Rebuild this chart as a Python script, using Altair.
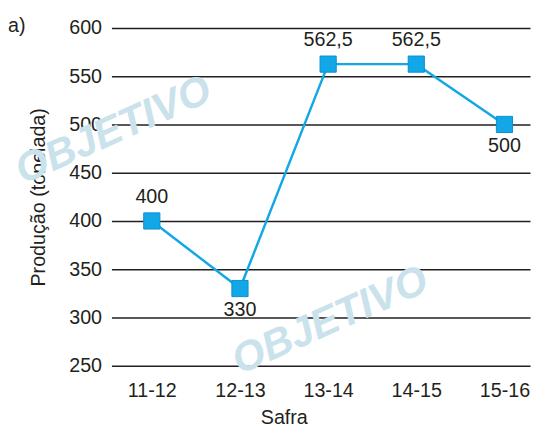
import altair as alt
import pandas as pd

safras = ["11-12", "12-13", "13-14", "14-15", "15-16"]
producao = [400, 330, 562.5, 562.5, 500]
rotulos = ["400", "330", "562,5", "562,5", "500"]
lado_rotulo = ["acima", "abaixo", "acima", "acima", "abaixo"]
y_ticks = [250, 300, 350, 400, 450, 500, 550, 600]

FONT = "Liberation Sans"
TXT = "#231f20"
BLUE = "#12a7e6"

df = pd.DataFrame({
    "i": list(range(len(safras))),
    "safra": safras,
    "v": producao,
    "rot": rotulos,
    "lado": lado_rotulo,
})

label_expr = "[" + ",".join("'%s'" % s for s in safras) + "][datum.value]"

x = alt.X(
    "i:Q",
    scale=alt.Scale(domain=[-0.458, 4.29], nice=False, zero=False),
    axis=alt.Axis(
        values=list(range(len(safras))),
        labelExpr=label_expr,
        grid=False, ticks=False, domain=False,
        labelFontSize=20, labelFont=FONT, labelColor=TXT, labelPadding=15,
        title="Safra", titleFontSize=20, titleFont=FONT, titleColor=TXT,
        titleFontWeight="normal", titlePadding=8, titleX=175, titleAnchor="start", titleAlign="center",
    ),
)
y = alt.Y(
    "v:Q",
    scale=alt.Scale(domain=[250, 600], nice=False, zero=False),
    axis=alt.Axis(
        values=y_ticks, grid=True, gridColor=TXT, gridWidth=1.5, gridOpacity=1,
        ticks=False, domain=False,
        labelFontSize=20, labelFont=FONT, labelColor=TXT, labelPadding=10,
        title="Produção (tonelada)", titleFontSize=20, titleFont=FONT, titleColor=TXT,
        titleFontWeight="normal", titlePadding=21,
    ),
)

base = alt.Chart(df)

wm_df = pd.DataFrame({"t": ["OBJETIVO", "OBJETIVO"], "px": [2, 222], "py": [104, 297]})
watermark = alt.Chart(wm_df).mark_text(
    font=FONT, fontSize=42, fontWeight="bold", fontStyle="italic", color="#c9e2eb",
    angle=336, align="center", baseline="middle",
).encode(
    x=alt.X("px:Q", scale=None), y=alt.Y("py:Q", scale=None), text="t:N"
)

line = base.mark_line(color=BLUE, strokeWidth=2.5).encode(x=x, y=y)
pts = base.mark_square(size=270, color=BLUE, filled=True, opacity=1, stroke="#0b8fcf", strokeWidth=1).encode(x=x, y=y)
lab_up = base.transform_filter("datum.lado == 'acima'").mark_text(
    font=FONT, fontSize=20, color=TXT, dy=-24, baseline="middle"
).encode(x=x, y=y, text="rot:N")
lab_dn = base.transform_filter("datum.lado == 'abaixo'").mark_text(
    font=FONT, fontSize=20, color=TXT, dy=22, baseline="middle"
).encode(x=x, y=y, text="rot:N")

a_df = pd.DataFrame({"t": ["a)"]})
a_lbl = alt.Chart(a_df).mark_text(
    font=FONT, fontSize=20, color=TXT, align="left", baseline="middle"
).encode(x=alt.value(-105), y=alt.value(-2), text="t:N")

chart = alt.layer(watermark, line, pts, lab_up, lab_dn, a_lbl).properties(
    width=425, height=343,
    autosize=alt.AutoSizeParams(type="none"),
    padding={"left": 105, "top": 17, "right": 2, "bottom": 62},
).configure_view(stroke=None)

chart.save("out.html", embed_options={"renderer": "svg", "actions": False})
